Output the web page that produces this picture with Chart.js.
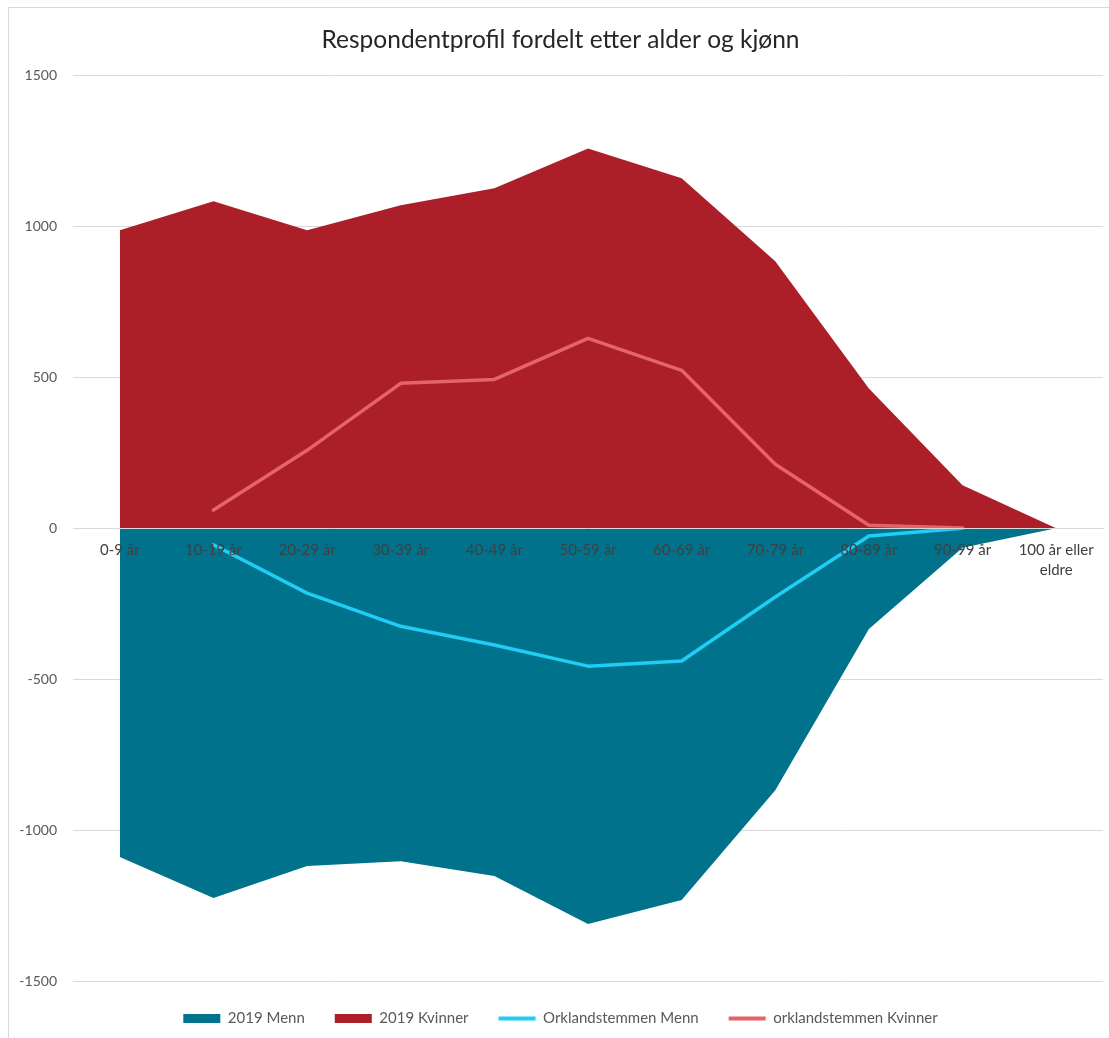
<!DOCTYPE html>
<html>
<head>
<meta charset="utf-8">
<script src="https://cdn.jsdelivr.net/npm/chart.js@4.4.1/dist/chart.umd.min.js"></script>
<style>
    body { margin: 0; background: #ffffff; overflow: hidden; }
    #frame {
        position: absolute;
        left: 8px;
        top: 7px;
        width: 1114px;
        height: 1040px;
        border: 1px solid #d9d9d9;
    }
</style>
</head>
<body>
<div id="frame">
    <canvas id="chart" width="1114" height="1030"></canvas>
</div>
<script>
// Age groups (x axis)
const ageGroups = ['0-9 år', '10-19 år', '20-29 år', '30-39 år', '40-49 år', '50-59 år',
                   '60-69 år', '70-79 år', '80-89 år', '90-99 år', ['100 år eller', 'eldre']];

// 2019 population, men shown as negative values
const menn2019 = [-1089, -1225, -1119, -1103, -1152, -1311, -1232, -868, -334, -65, 0];
const kvinner2019 = [987, 1083, 987, 1070, 1126, 1258, 1159, 884, 463, 142, 0];

// Orklandstemmen respondents
const orklandMenn = [null, -55, -215, -325, -387, -457, -440, -228, -26, 0, null];
const orklandKvinner = [null, 60, 258, 480, 493, 629, 523, 212, 10, 1, null];

const yTicks = [-1500, -1000, -500, 0, 500, 1000, 1500];

const colors = {
    menn: '#01728b',
    kvinner: '#ad1f28',
    orkMenn: '#1fcdf5',
    orkKvinner: '#e5636b'
};

const font = "Lato, 'Open Sans', sans-serif";

const legendItems = [
    {text: '2019 Menn', color: colors.menn, style: 'rect'},
    {text: '2019 Kvinner', color: colors.kvinner, style: 'rect'},
    {text: 'Orklandstemmen Menn', color: colors.orkMenn, style: 'line'},
    {text: 'orklandstemmen Kvinner', color: colors.orkKvinner, style: 'line'}
];

const ctx = document.getElementById('chart');

new Chart(ctx, {
    type: 'line',
    data: {
        labels: ageGroups,
        datasets: [
            {
                label: '2019 Menn',
                data: menn2019,
                backgroundColor: colors.menn,
                borderWidth: 0,
                pointRadius: 0,
                fill: 'origin',
                order: 3
            },
            {
                label: '2019 Kvinner',
                data: kvinner2019,
                backgroundColor: colors.kvinner,
                borderWidth: 0,
                pointRadius: 0,
                fill: 'origin',
                order: 2
            },
            {
                label: 'Orklandstemmen Menn',
                data: orklandMenn,
                borderColor: colors.orkMenn,
                backgroundColor: colors.orkMenn,
                borderWidth: 3.5,
                borderCapStyle: 'round',
                borderJoinStyle: 'round',
                pointRadius: 0,
                fill: false,
                order: 1
            },
            {
                label: 'orklandstemmen Kvinner',
                data: orklandKvinner,
                borderColor: colors.orkKvinner,
                backgroundColor: colors.orkKvinner,
                borderWidth: 3.5,
                borderCapStyle: 'round',
                borderJoinStyle: 'round',
                pointRadius: 0,
                fill: false,
                order: 0
            }
        ]
    },
    options: {
        responsive: false,
        animation: false,
        layout: {
            padding: {left: 9, right: 20, top: 0, bottom: 2}
        },

        // Scales
        scales: {
            x: {
                position: {y: 0},
                offset: true,
                grid: {display: false, drawTicks: false},
                border: {display: true, color: '#d9d9d9', width: 1, z: 1},
                ticks: {
                    z: 1,
                    autoSkip: false,
                    maxRotation: 0,
                    padding: 12,
                    color: '#404040',
                    font: {family: font, size: 15, lineHeight: 1.33}
                }
            },
            y: {
                min: -1500,
                max: 1500,
                afterFit: (scale) => { scale.width = 55; },
                afterBuildTicks: (scale) => {
                    scale.ticks = yTicks.map(v => ({value: v}));
                },
                grid: {color: '#d9d9d9', lineWidth: 1, drawTicks: false},
                border: {display: false},
                ticks: {
                    padding: 16,
                    color: '#595959',
                    font: {family: font, size: 14},
                    callback: (value) => String(value)
                }
            }
        },

        // Title and legend
        plugins: {
            title: {
                display: true,
                text: 'Respondentprofil fordelt etter alder og kjønn',
                color: '#262626',
                font: {family: font, size: 24.5, weight: 'normal'},
                padding: {top: 17, bottom: 21}
            },
            legend: {
                position: 'bottom',
                labels: {
                    usePointStyle: true,
                    pointStyleWidth: 37,
                    boxHeight: 9,
                    padding: 30,
                    color: '#595959',
                    font: {family: font, size: 15},
                    generateLabels: () => legendItems.map((item, i) => ({
                        text: item.text,
                        fillStyle: item.color,
                        strokeStyle: item.color,
                        lineWidth: item.style === 'line' ? 4 : 0,
                        pointStyle: item.style,
                        fontColor: '#595959',
                        hidden: false,
                        datasetIndex: i
                    }))
                }
            },
            tooltip: {enabled: false}
        }
    }
});
</script>
</body>
</html>
